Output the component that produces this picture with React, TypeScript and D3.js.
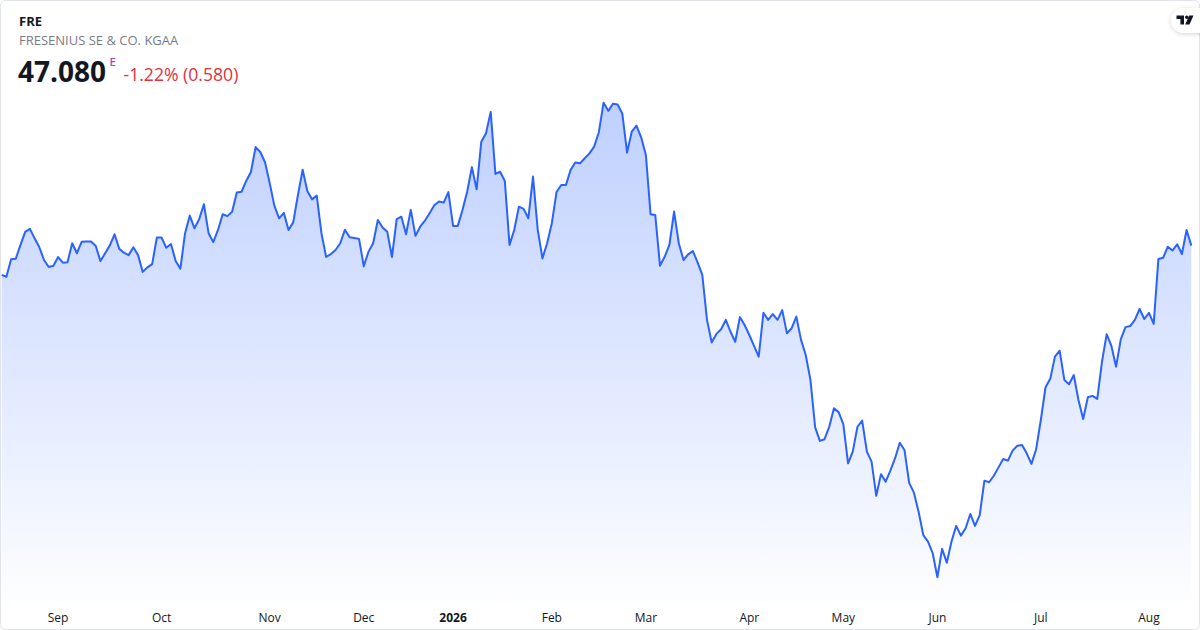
import React, { useEffect, useRef } from 'react';
import * as d3 from 'd3';

// Daily closes, FRE (Xetra), mid-Aug 2025 to mid-Aug 2026
const closes: number[] = [
  46.00, 45.93, 46.58, 46.60, 47.11, 47.59, 47.70, 47.35, 47.02, 46.55,
  46.29, 46.34, 46.66, 46.45, 46.47, 47.17, 46.80, 47.22, 47.23, 47.23,
  47.07, 46.51, 46.80, 47.09, 47.50, 46.96, 46.82, 46.73, 47.02, 46.73,
  46.11, 46.28, 46.40, 47.38, 47.38, 47.00, 47.14, 46.51, 46.23, 47.54,
  48.19, 47.72, 48.06, 48.61, 47.54, 47.21, 47.66, 48.24, 48.17, 48.33,
  49.04,
  49.07, 49.47, 49.80, 50.72, 50.54, 50.16, 49.39, 48.55, 48.09, 48.29,
  47.66, 47.94, 48.95, 49.88, 49.10, 48.79, 48.93, 47.54, 46.66, 46.77,
  46.92, 47.17, 47.67, 47.39, 47.36, 47.33, 46.32, 46.85, 47.17, 48.03,
  47.75, 47.59, 46.66, 48.06, 48.15, 47.50, 48.40, 47.44, 47.78, 48.00,
  48.28, 48.57, 48.71, 48.67, 49.06, 47.81, 47.81,
  48.40, 49.08, 49.98, 49.16, 50.92, 51.23, 52.02, 49.73, 49.81, 49.47,
  47.11, 47.66, 48.52, 48.44, 48.09, 49.63, 47.66, 46.61, 47.17, 47.91,
  49.06, 49.32, 49.32, 49.88, 50.15, 50.12, 50.31, 50.49, 50.74, 51.27,
  52.36, 52.06, 52.32, 52.29, 51.95, 50.52, 51.29, 51.51, 51.08, 50.43,
  48.24, 48.21, 46.34, 46.67, 47.11, 48.34, 47.17, 46.55, 46.76, 46.88,
  46.46, 46.00, 44.34, 43.50, 43.82, 43.99, 44.34, 43.90, 43.53, 44.44,
  44.15, 43.78, 43.38, 42.98, 44.60, 44.34, 44.55, 44.34, 44.70, 43.84,
  44.03, 44.46, 43.60, 43.04, 42.12, 40.37, 39.87, 39.93, 40.39, 41.07,
  40.93, 40.48,
  39.04, 39.47, 40.39, 40.62, 39.47, 39.10, 37.84, 38.64, 38.36, 38.77,
  39.23, 39.80, 39.53, 38.32, 37.96, 37.25, 36.39, 36.15, 35.72, 34.83,
  35.88, 35.37, 36.15, 36.73, 36.37, 36.64, 37.17, 36.73, 37.13, 38.40,
  38.34, 38.58, 38.89,
  39.20, 39.14, 39.51, 39.69, 39.72, 39.41, 39.02, 39.56, 40.64, 41.85,
  42.16, 42.98, 43.20, 42.12, 41.96, 42.30, 41.38, 40.68, 41.48, 41.53,
  41.42, 42.79, 43.81, 43.38, 42.61, 43.62, 44.07, 44.11, 44.34, 44.74,
  44.37, 44.60, 44.19, 46.59, 46.63, 47.04, 46.90, 47.13, 46.77, 47.66,
  47.08,
];

const firstSession = '2025-08-14';
const exchangeHolidays = [
  '2025-12-24', '2025-12-25', '2025-12-26', '2025-12-31',
  '2026-01-01', '2026-04-03', '2026-04-06', '2026-05-01',
];
const monthNames = ['2026', 'Feb', 'Mar', 'Apr', 'May', 'Jun', 'Jul', 'Aug', 'Sep', 'Oct', 'Nov', 'Dec'];

const symbol = 'FRE';
const companyName = 'FRESENIUS SE & CO. KGAA';
const lastPrice = '47.080';
const change = '-1.22% (0.580)';

// build trading-day calendar (weekdays minus exchange holidays)
function sessions(count: number): Date[] {
  const out: Date[] = [];
  const d = new Date(firstSession + 'T00:00:00Z');
  while (out.length < count) {
    const dow = d.getUTCDay();
    const iso = d.toISOString().slice(0, 10);
    if (dow !== 0 && dow !== 6 && !exchangeHolidays.includes(iso)) out.push(new Date(d));
    d.setUTCDate(d.getUTCDate() + 1);
  }
  return out;
}

const W = 1200;
const H = 630;

const App: React.FC = () => {
  const svgRef = useRef<SVGSVGElement>(null);

  useEffect(() => {
    document.body.style.margin = '0';
    if (!svgRef.current) return;
    const svg = d3.select(svgRef.current);
    svg.selectAll('*').remove();

    const font = '"Open Sans", Roboto, sans-serif';
    const dates = sessions(closes.length);
    const idx = d3.range(closes.length);

    const x = d3.scaleLinear().domain([0, closes.length - 1]).range([1.7, 1191.3]);
    const [lo, hi] = d3.extent(closes) as [number, number];
    const y = d3.scaleLinear().domain([lo, hi]).range([577.3, 102.7]);
    const baseY = 601;

    // card
    svg.append('rect')
      .attr('x', 0.5).attr('y', 0.5).attr('width', W - 1).attr('height', H - 1)
      .attr('rx', 5).attr('fill', '#fff').attr('stroke', '#e0e3eb');

    const defs = svg.append('defs');
    const grad = defs.append('linearGradient')
      .attr('id', 'areaFill').attr('gradientUnits', 'userSpaceOnUse')
      .attr('x1', 0).attr('x2', 0).attr('y1', y(hi)).attr('y2', baseY);
    grad.append('stop').attr('offset', 0).attr('stop-color', '#2962ff').attr('stop-opacity', 0.3);
    grad.append('stop').attr('offset', 1).attr('stop-color', '#2962ff').attr('stop-opacity', 0.01);

    const filt = defs.append('filter').attr('id', 'pillShadow').attr('x', -0.5).attr('y', -0.5).attr('width', 2).attr('height', 2);
    filt.append('feDropShadow').attr('dx', 0).attr('dy', 1).attr('stdDeviation', 2).attr('flood-color', '#000').attr('flood-opacity', 0.18);

    const area = d3.area<number>()
      .x(i => x(i))
      .y0(baseY)
      .y1(i => y(closes[i]));
    const line = d3.line<number>()
      .x(i => x(i))
      .y(i => y(closes[i]));

    svg.append('path').attr('d', area(idx)).attr('fill', 'url(#areaFill)');
    svg.append('path').attr('d', line(idx))
      .attr('fill', 'none').attr('stroke', '#2962ff').attr('stroke-width', 2)
      .attr('stroke-linejoin', 'round');

    // month ticks at first session of each month
    const ticks = idx.filter(i => i > 0 && dates[i].getUTCMonth() !== dates[i - 1].getUTCMonth());
    svg.append('g').selectAll('text').data(ticks).join('text')
      .attr('x', i => x(i))
      .attr('y', 622)
      .attr('text-anchor', 'middle')
      .attr('font-family', font)
      .attr('font-size', 12)
      .attr('font-weight', i => (dates[i].getUTCMonth() === 0 ? 700 : 400))
      .attr('fill', '#131722')
      .text(i => monthNames[dates[i].getUTCMonth()]);

    // header
    svg.append('text').attr('x', 19).attr('y', 26)
      .attr('font-family', font).attr('font-size', 13).attr('font-weight', 700)
      .attr('fill', '#131722').text(symbol);
    svg.append('text').attr('x', 19).attr('y', 45)
      .attr('font-family', font).attr('font-size', 13)
      .attr('fill', '#787b86').text(companyName);
    svg.append('text').attr('x', 18).attr('y', 81.5)
      .attr('font-family', font).attr('font-size', 28).attr('font-weight', 700)
      .attr('fill', '#131722').text(lastPrice);
    svg.append('text').attr('x', 109.5).attr('y', 65.5)
      .attr('font-family', font).attr('font-size', 11.5).attr('font-weight', 600)
      .attr('fill', '#ab47bc').text('E');
    svg.append('text').attr('x', 123.5).attr('y', 80.5)
      .attr('font-family', font).attr('font-size', 17.6)
      .attr('fill', '#e0313f').text(change);

    // logo pill
    const logo = svg.append('g');
    logo.append('rect').attr('x', 1171).attr('y', 8).attr('width', 40).attr('height', 25).attr('rx', 12.5)
      .attr('fill', '#fff').attr('filter', 'url(#pillShadow)');
    logo.append('path')
      .attr('d', 'M1176.5,15.5 h7.5 v9 h-3.6 v-5.6 h-3.9 z M1189.2,15.5 h4.3 l-4,9 h-4.3 z')
      .attr('fill', '#131722');
    logo.append('circle').attr('cx', 1186.8).attr('cy', 17.3).attr('r', 1.8).attr('fill', '#131722');
  }, []);

  return <svg ref={svgRef} width={W} height={H} style={{ display: 'block' }}></svg>;
};

export default App;
